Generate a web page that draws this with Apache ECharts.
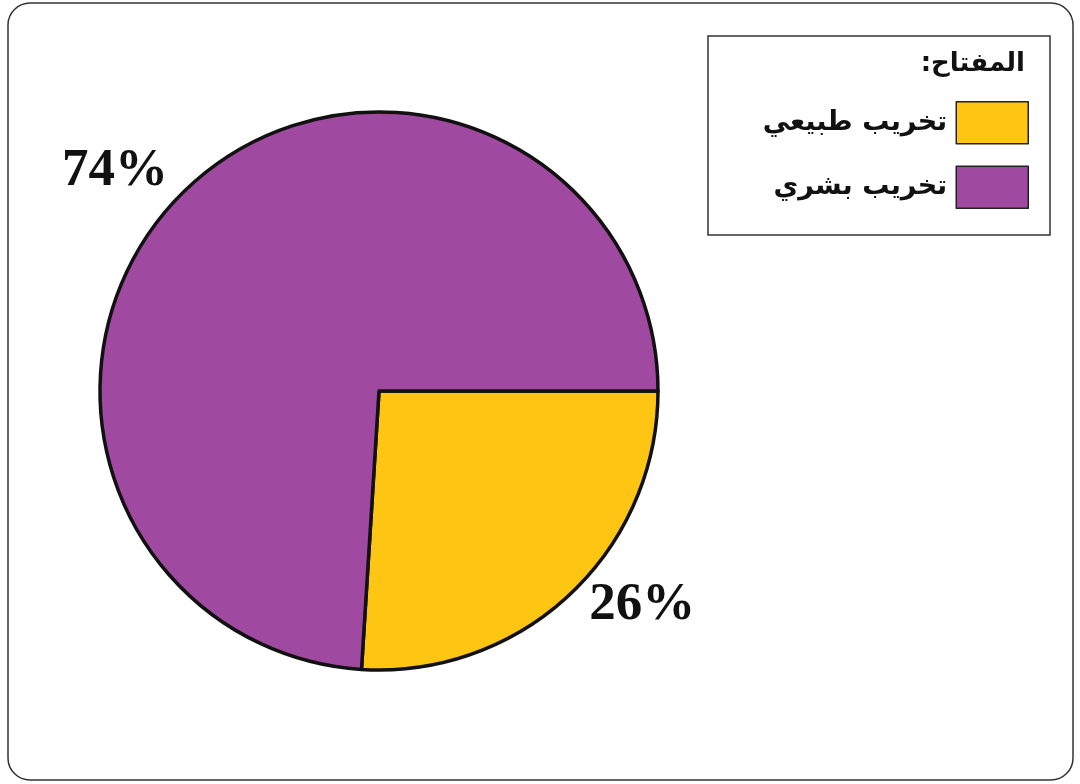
<!DOCTYPE html>
<html>
<head>
<meta charset="utf-8">
<script src="https://cdn.jsdelivr.net/npm/echarts@6/dist/echarts.min.js"></script>
<style>html,body{margin:0;padding:0;background:#fff;}#main{width:1080px;height:784px;}</style>
</head>
<body>
<div id="main"></div>
<script>
const categories = ['تخريب طبيعي', 'تخريب بشري'];
const values = [26, 74];
const colors = ['#FEC512', '#A049A0'];
const legendTitle = 'المفتاح:\u200F';

const chart = echarts.init(document.getElementById('main'));
const labelCfg = [
  { line: 15, line2: 0, dist: 9 },
  { line: 22, line2: 0, dist: 5 }
];
chart.setOption({
  backgroundColor: '#ffffff',
  animation: false,
  title: {
    text: legendTitle,
    right: 50,
    top: 46,
    textStyle: { fontFamily: 'DejaVu Sans', fontSize: 26, fontWeight: 'bold', color: '#111' }
  },
  legend: {
    orient: 'vertical',
    right: 51,
    top: 101,
    align: 'right',
    itemWidth: 72,
    itemHeight: 42,
    itemGap: 21,
    icon: 'rect',
    padding: 0,
    itemStyle: { borderColor: '#222', borderWidth: 1.5 },
    textStyle: { fontFamily: 'DejaVu Sans', fontSize: 27, fontWeight: 'bold', color: '#111', padding: [0, 4, 0, 0] },
    data: categories
  },
  graphic: [
    { type: 'rect', shape: { x: 8, y: 3, width: 1065, height: 777, r: 22 }, style: { fill: 'none', stroke: '#333', lineWidth: 1.5 }, silent: true, z: -1 },
    { type: 'rect', shape: { x: 708, y: 36, width: 342, height: 199 }, style: { fill: 'none', stroke: '#333', lineWidth: 1.5 }, silent: true, z: -1 }
  ],
  series: [{
    type: 'pie',
    center: [379, 391],
    radius: 279,
    startAngle: 0,
    clockwise: true,
    avoidLabelOverlap: false,
    itemStyle: { borderColor: '#111', borderWidth: 3.5 },
    emphasis: { disabled: true },
    data: categories.map((name, i) => ({
      name: name,
      value: values[i],
      itemStyle: { color: colors[i] },
      label: { distanceToLabelLine: labelCfg[i].dist },
      labelLine: { show: false, length: labelCfg[i].line, length2: labelCfg[i].line2 }
    })),
    label: {
      show: true,
      position: 'outside',
      formatter: '{c}%',
      fontFamily: 'Liberation Serif',
      fontWeight: 'bold',
      fontSize: 53,
      color: '#111'
    },
    labelLine: { show: false }
  }]
});
</script>
</body>
</html>
